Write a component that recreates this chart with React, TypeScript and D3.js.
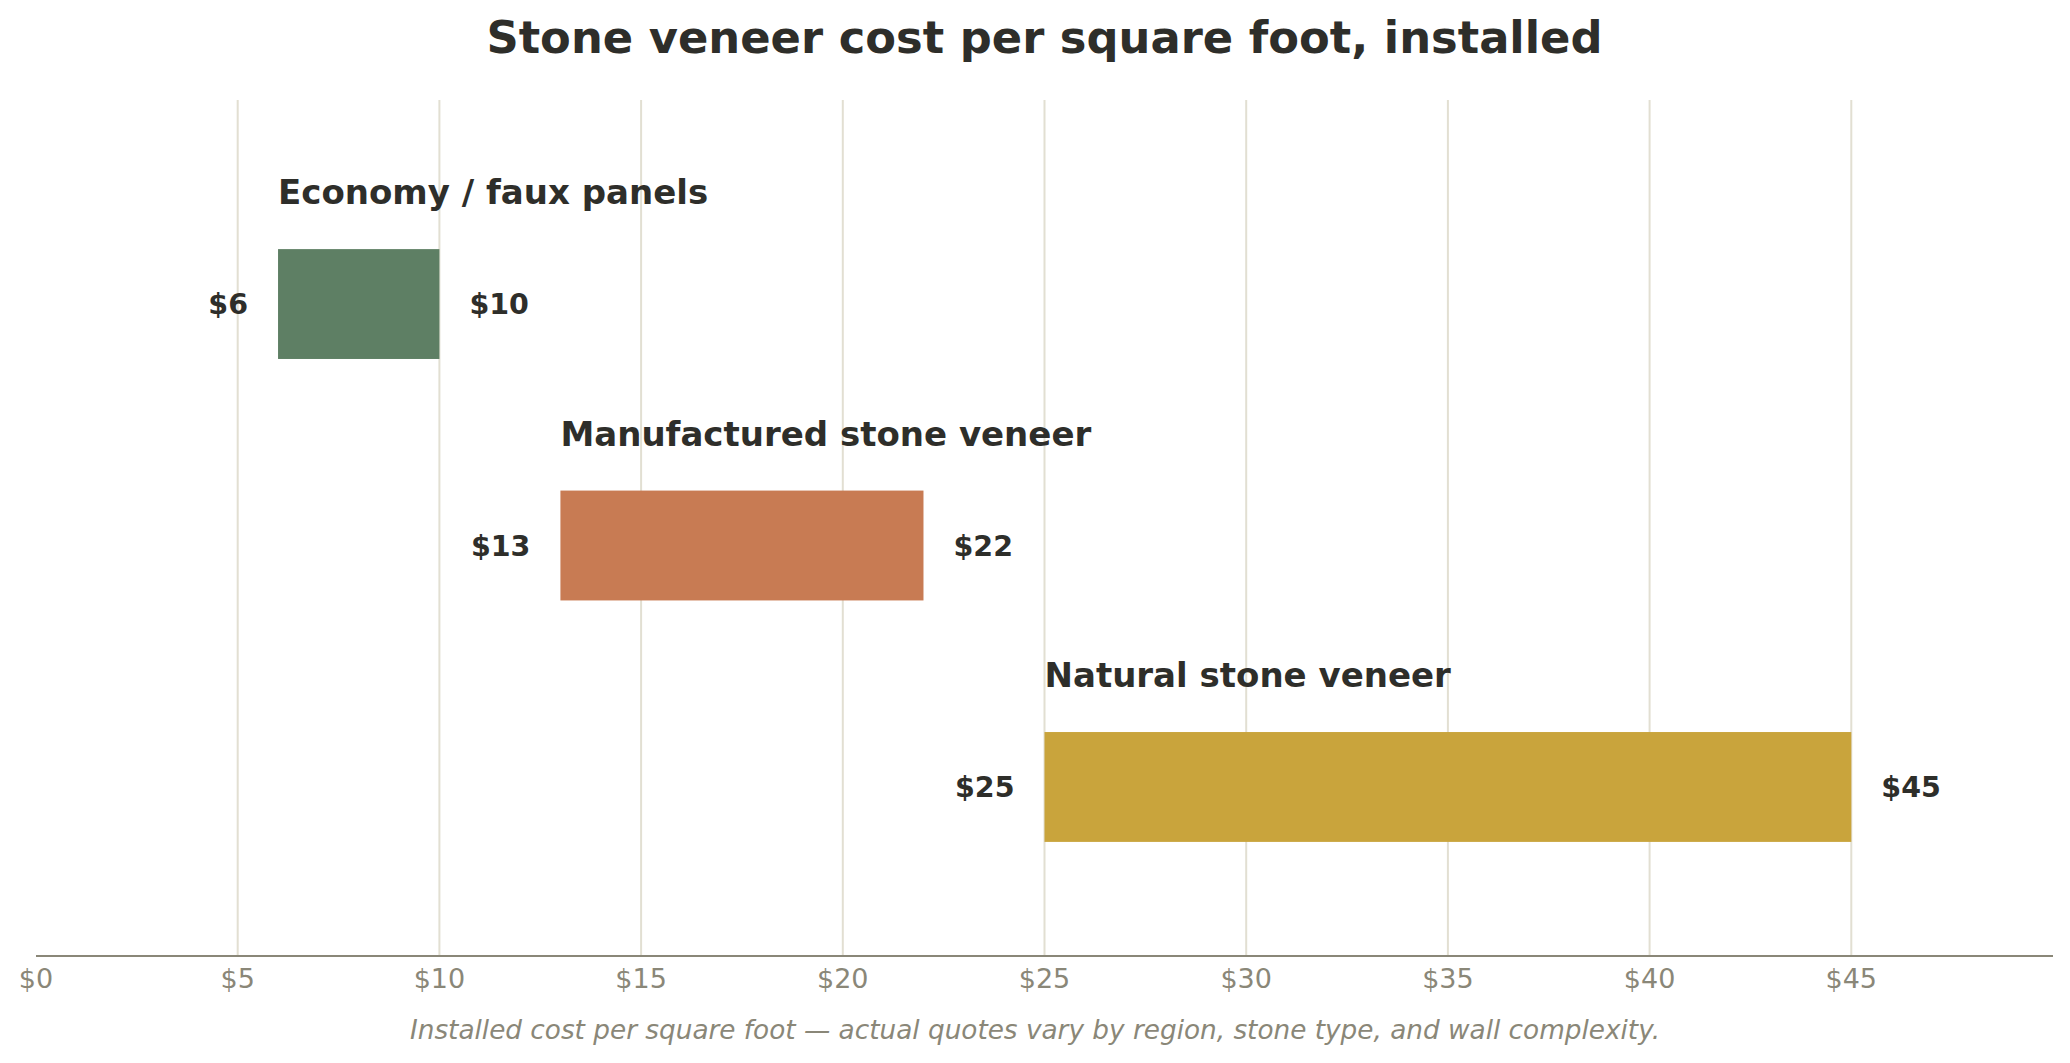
import { useEffect } from 'react'
import { scaleLinear } from 'd3'

const categories = ['Economy / faux panels', 'Manufactured stone veneer', 'Natural stone veneer']
const lowCosts = [6, 13, 25]
const highCosts = [10, 22, 45]
const barColors = ['#5e7f64', '#c87b53', '#c9a43c']
const xTicks = [0, 5, 10, 15, 20, 25, 30, 35, 40, 45]

const chartWidth = 2070
const chartHeight = 1063

const plot = {
  left: 36,
  right: 2053,
  top: 100,
  bottom: 956,
}

const fontFamily = '"DejaVu Sans", sans-serif'
const inkColor = '#2e2e2a'
const mutedColor = '#8a8778'
const gridColor = '#e2dfd2'

function App() {
  useEffect(() => {
    document.body.style.margin = '0'
  }, [])

  const xScale = scaleLinear().domain([0, 50]).range([plot.left, plot.right])
  const yScale = scaleLinear().domain([-0.845, 2.7]).range([plot.top, plot.bottom])
  const barHalf = (yScale(0.455) - yScale(0)) / 2

  return (
    <svg width={chartWidth} height={chartHeight} style={{ display: 'block', fontFamily }}>
      <rect width={chartWidth} height={chartHeight} fill="#ffffff" />

      <text
        x={(plot.left + plot.right) / 2}
        y={53}
        textAnchor="middle"
        fontSize={44.8}
        fontWeight="bold"
        fill={inkColor}
      >
        Stone veneer cost per square foot, installed
      </text>

      {xTicks
        .filter((tick) => tick > 0)
        .map((tick) => (
          <line
            key={`${tick}-grid`}
            x1={xScale(tick)}
            x2={xScale(tick)}
            y1={plot.top}
            y2={plot.bottom}
            stroke={gridColor}
            strokeWidth={2}
          />
        ))}

      {categories.map((category, index) => {
        const center = yScale(index)
        const x0 = xScale(lowCosts[index])
        const x1 = xScale(highCosts[index])

        return (
          <g key={category}>
            <rect
              x={x0}
              y={center - barHalf}
              width={x1 - x0}
              height={barHalf * 2}
              fill={barColors[index]}
            />
            <text
              x={x0}
              y={center - barHalf - 45}
              fontSize={34}
              fontWeight="bold"
              fill={inkColor}
            >
              {category}
            </text>
            <text
              x={x0 - 30}
              y={center}
              dy="0.36em"
              textAnchor="end"
              fontSize={28.5}
              fontWeight="bold"
              fill={inkColor}
            >
              {`$${lowCosts[index]}`}
            </text>
            <text
              x={x1 + 30}
              y={center}
              dy="0.36em"
              fontSize={28.5}
              fontWeight="bold"
              fill={inkColor}
            >
              {`$${highCosts[index]}`}
            </text>
          </g>
        )
      })}

      <line
        x1={plot.left}
        x2={plot.right}
        y1={plot.bottom}
        y2={plot.bottom}
        stroke={mutedColor}
        strokeWidth={2}
      />

      {xTicks.map((tick) => (
        <text
          key={`${tick}-label`}
          x={xScale(tick)}
          y={988}
          textAnchor="middle"
          fontSize={27}
          fill={mutedColor}
        >
          {`$${tick}`}
        </text>
      ))}

      <text
        x={chartWidth / 2}
        y={1039}
        textAnchor="middle"
        fontSize={26.3}
        fontStyle="italic"
        fill={mutedColor}
      >
        Installed cost per square foot — actual quotes vary by region, stone type, and wall complexity.
      </text>
    </svg>
  )
}

export default App
